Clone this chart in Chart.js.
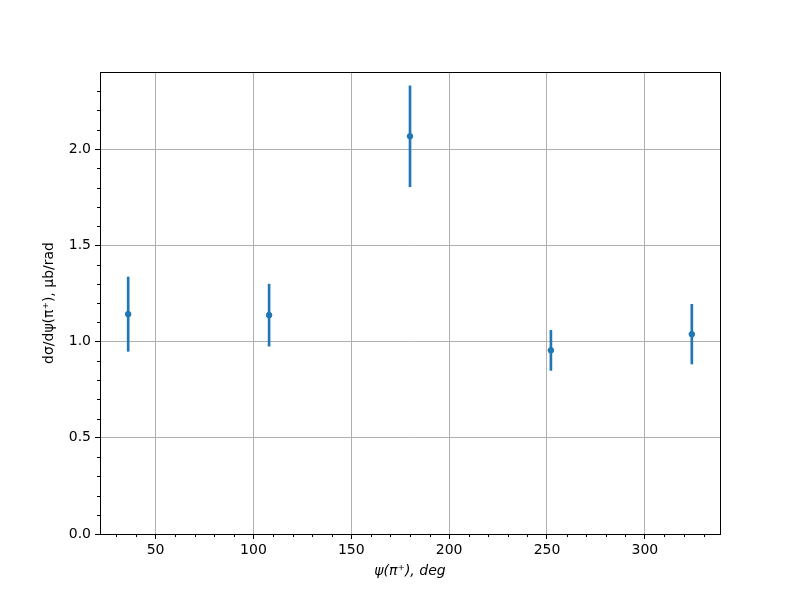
<!DOCTYPE html>
<html>
<head>
<meta charset="utf-8">
<script src="https://cdn.jsdelivr.net/npm/chart.js@4/dist/chart.umd.min.js"></script>
<style>
  body { margin: 0; background: #fff; }
  canvas { display: block; }
</style>
</head>
<body>
<canvas id="chart" width="800" height="600"></canvas>
<script>
// pi+ azimuthal distribution
const angles = [36, 108, 180, 252, 324];
const xsec = [1.142, 1.137, 2.066, 0.954, 1.038];
const errs = [0.193, 0.161, 0.262, 0.104, 0.155];

const xMajor = [50, 100, 150, 200, 250, 300];
const yMajor = [0.0, 0.5, 1.0, 1.5, 2.0];

const blue = "#1f77b4";

let points = angles.map((a, i) => ({ x: a, y: xsec[i] }));
let bars = angles.map((a, i) => ({ x: a, y: [xsec[i] - errs[i], xsec[i] + errs[i]] }));

// matplotlib-like minor ticks + top/right spines
const frame = {
    id: "frame",
    afterDraw(chart) {
        const ctx = chart.ctx;
        const area = chart.chartArea;
        const xs = chart.scales.x, ys = chart.scales.y;
        ctx.save();
        ctx.strokeStyle = "#000";
        ctx.lineWidth = 1;
        ctx.beginPath();
        for (let v = 30; v <= 330; v += 10) {
            if (v % 50 === 0) continue;
            let px = Math.round(xs.getPixelForValue(v)) + 0.5;
            ctx.moveTo(px, area.bottom);
            ctx.lineTo(px, area.bottom + 3);
        }
        for (let k = 1; k <= 23; k++) {
            if (k % 5 === 0) continue;
            let py = Math.round(ys.getPixelForValue(k / 10)) + 0.5;
            ctx.moveTo(area.left, py);
            ctx.lineTo(area.left - 3, py);
        }
        ctx.stroke();
        ctx.strokeRect(Math.round(area.left) + 0.5, Math.round(area.top) + 0.5,
            Math.round(area.right - area.left), Math.round(area.bottom - area.top));
        ctx.restore();
    }
};

Chart.defaults.font.family = "'DejaVu Sans', sans-serif";
Chart.defaults.font.size = 14;
Chart.defaults.color = "#000";

new Chart("chart", {
    type: "scatter",
    data: {
        datasets: [
            {
                data: points,
                backgroundColor: blue,
                borderColor: blue,
                pointRadius: 2.8,
                pointHoverRadius: 2.8
            },
            {
                type: "bar",
                data: bars,
                backgroundColor: blue,
                borderWidth: 0,
                barThickness: 2,
                grouped: false
            }
        ]
    },
    plugins: [frame],
    options: {
        responsive: false,
        animation: false,
        layout: { padding: { left: 0, top: 72, right: 80, bottom: 0 } },
        plugins: {
            legend: { display: false },
            tooltip: { enabled: false }
        },
        scales: {
            x: {
                type: "linear",
                min: 21.6,
                max: 338.4,
                offset: false,
                afterFit: (s) => { s.height = 66; },
                afterBuildTicks: (s) => { s.ticks = xMajor.map(v => ({ value: v })); },
                grid: { offset: false, color: "#b0b0b0", lineWidth: 1, tickColor: "#000", tickLength: 5, tickWidth: 1 },
                border: { color: "#000", width: 1 },
                ticks: { padding: 3, maxRotation: 0, callback: (v) => String(v) },
                title: {
                    display: true,
                    text: "ψ(π⁺), deg",
                    font: { style: "italic", size: 14 },
                    padding: { top: 0, bottom: 20 }
                }
            },
            y: {
                min: 0,
                max: 2.4,
                afterFit: (s) => { s.width = 100; },
                afterBuildTicks: (s) => { s.ticks = yMajor.map(v => ({ value: v })); },
                grid: { color: "#b0b0b0", lineWidth: 1, tickColor: "#000", tickLength: 5, tickWidth: 1 },
                border: { color: "#000", width: 1 },
                ticks: { padding: 4, callback: (v) => v.toFixed(1) },
                title: {
                    display: true,
                    text: "dσ/dψ(π⁺), μb/rad",
                    font: { size: 14 },
                    padding: { top: 41, bottom: 0 }
                }
            }
        }
    }
});
</script>
</body>
</html>
